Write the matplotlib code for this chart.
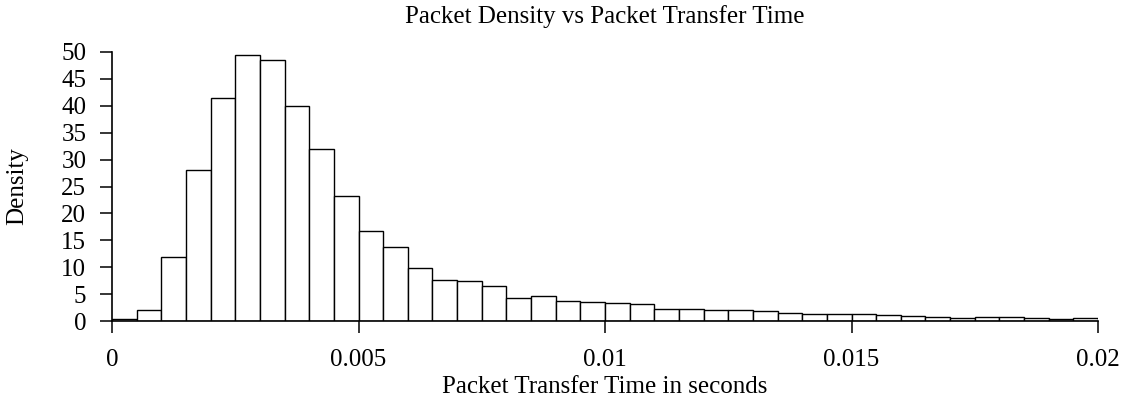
import numpy as np
import matplotlib.pyplot as plt
import matplotlib as mpl

# ==============Plotting settings==================
mpl.rcParams["font.family"] = "Liberation Serif"
mpl.rcParams["xtick.labelsize"] = 18
mpl.rcParams["ytick.labelsize"] = 18
mpl.rcParams["axes.labelsize"] = 18
mpl.rcParams["axes.titlesize"] = 18
# ===================================================

bin_width = 0.0005
# density per bin (40 bins from 0 to 0.02 s)
density = [0.3, 2.0, 11.9, 28.0, 41.5, 49.4, 48.6, 39.9, 32.0, 23.3,
           16.7, 13.7, 9.8, 7.6, 7.5, 6.5, 4.3, 4.6, 3.7, 3.5,
           3.4, 3.1, 2.3, 2.3, 2.0, 2.0, 1.8, 1.5, 1.3, 1.3,
           1.3, 1.1, 0.9, 0.7, 0.5, 0.7, 0.7, 0.5, 0.35, 0.6]
x_ticks = [0, 0.005, 0.01, 0.015, 0.02]
x_tick_labels = ["0", "0.005", "0.01", "0.015", "0.02"]
y_ticks = list(range(0, 51, 5))

left_edges = np.arange(len(density)) * bin_width

W, H = 1124, 409
fig = plt.figure(figsize=(W / 100, H / 100), dpi=100)
ax = fig.add_axes([112 / W, (H - 321) / H, (1098 - 112) / W, (321 - 52) / H])

ax.bar(left_edges, density, width=bin_width, align='edge',
       facecolor='white', edgecolor='black', linewidth=1.0)

ax.set_xlim(0, 0.02)
ax.set_ylim(0, 50)
ax.set_xticks(x_ticks)
ax.set_xticklabels(x_tick_labels)
ax.set_yticks(y_ticks)

for side in ['top', 'right']:
    ax.spines[side].set_visible(False)
for side in ['left', 'bottom']:
    ax.spines[side].set_linewidth(1.2)

ax.tick_params(direction='out', length=8.5, width=1.1)
ax.tick_params(axis='x', pad=11.5)
ax.tick_params(axis='y', pad=10)

ax.set_title("Packet Density vs Packet Transfer Time", pad=21)
ax.set_xlabel("Packet Transfer Time in seconds", labelpad=4)
ax.set_ylabel("Density", labelpad=24)

fig.savefig("out.png", dpi=100)
